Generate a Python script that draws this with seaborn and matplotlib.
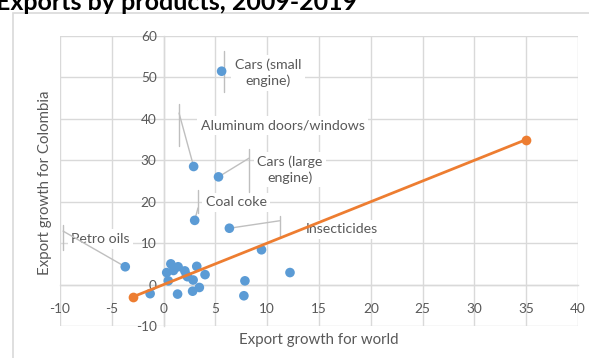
import matplotlib
matplotlib.use("Agg")
import matplotlib.pyplot as plt
import seaborn as sns
import pandas as pd
from matplotlib.patches import Rectangle

# Product-level export growth (%), world vs. Colombia
world_growth = [5.6, 2.9, 5.3, 3.0, 6.35, -3.7, 9.45, 12.2, 7.85, 7.75,
                0.3, 0.7, 0.95, 1.4, 2.05, 2.3, 2.85, 3.2, 4.0, 3.45,
                2.8, 1.35, 0.45, -1.3, 2.2]
colombia_growth = [51.5, 28.5, 26.0, 15.5, 13.6, 4.3, 8.4, 2.9, 0.9, -2.7,
                   2.9, 5.0, 3.4, 4.3, 3.3, 1.9, 1.1, 4.4, 2.4, -0.7,
                   -1.6, -2.3, 0.9, -2.2, 2.3]

# Labelled products (index into the arrays above)
callout_names = ["Cars (small\nengine)", "Aluminum doors/windows", "Cars (large\nengine)",
                 "Coal coke", "Insecticides", "Petro oils"]
callout_index = [0, 1, 2, 3, 4, 5]

# Reference 45-degree line
ref_x = [-3, 35]
ref_y = [-3, 35]

x_ticks = list(range(-10, 41, 5))
y_ticks = list(range(-10, 61, 10))

BLUE = "#5B9BD5"
ORANGE = "#ED7D31"
TEXT = "#595959"
GRID = "#D9D9D9"
LEADER = "#BFBFBF"
FONT = "Lato"

sns.set_theme(style="white")
plt.rcParams["font.family"] = [FONT, "DejaVu Sans"]
plt.rcParams["axes.unicode_minus"] = False

fig = plt.figure(figsize=(5.89, 3.58), dpi=100)
ax = fig.add_axes([60 / 589, 32 / 358, 518 / 589, 290 / 358])

# chart frame
fig.patches.append(Rectangle((13 / 589, -0.1), 1.2, (358 - 13) / 358 + 0.1,
                             transform=fig.transFigure, fill=False,
                             edgecolor=GRID, linewidth=1.2, zorder=0))
fig.text(-0.007, 1 - 10 / 358, "Exports by products, 2009-2019",
         ha="left", va="baseline", fontsize=18, fontweight="bold", color="black")

df = pd.DataFrame({"world": world_growth, "colombia": colombia_growth})
line_df = pd.DataFrame({"x": ref_x, "y": ref_y})

ax.set_xlim(-10, 40)
ax.set_ylim(-10, 60)
ax.set_xticks(x_ticks)
ax.set_yticks(y_ticks)
ax.grid(True, color=GRID, linewidth=1.0, zorder=0)
ax.set_axisbelow(True)

for side in ["top", "right"]:
    ax.spines[side].set_visible(False)
ax.spines["left"].set_position(("data", 0))
ax.spines["bottom"].set_position(("data", 0))
for side in ["left", "bottom"]:
    ax.spines[side].set_color(GRID)
    ax.spines[side].set_linewidth(1.0)
    ax.spines[side].set_zorder(0.5)

ax.tick_params(axis="both", length=0, labelsize=9.8, labelcolor=TEXT)
ax.tick_params(axis="x", pad=13)
ax.tick_params(axis="y", pad=5)

# callout text boxes and their leader bars (label centre, bar x, bar y-span, joint y)
callout_layout = [
    ((10.1, 51.1), 5.83, (46.5, 56.4), 51.4),
    ((11.5, 38.3), 1.49, (33.5, 43.6), 41.4),
    ((12.2, 27.7), 8.24, (22.4, 32.8), 30.5),
    ((7.0, 19.9), 3.32, (17.3, 22.8), 18.5),
    ((17.2, 13.4), 11.2, (11.5, 16.6), 15.4),
    ((-6.1, 11.0), -9.7, (8.35, 14.4), 12.9),
]
for name, idx, (centre, bx, (y0, y1), jy) in zip(callout_names, callout_index, callout_layout):
    ax.text(centre[0], centre[1], name, ha="center", va="center", fontsize=10.2,
            color=TEXT, linespacing=1.3, zorder=2,
            bbox=dict(boxstyle="square,pad=0.25", facecolor="white", edgecolor="none"))
    ax.plot([bx, bx], [y0, y1], color=LEADER, linewidth=1.0, zorder=2.5)
    ax.plot([bx, world_growth[idx]], [jy, colombia_growth[idx]],
            color=LEADER, linewidth=1.0, zorder=2.5)

sns.scatterplot(data=df, x="world", y="colombia", ax=ax, color=BLUE, s=48,
                edgecolor="none", zorder=3, legend=False)
sns.lineplot(data=line_df, x="x", y="y", ax=ax, color=ORANGE, linewidth=2.0,
             marker="o", markersize=7, markeredgewidth=0, zorder=4, legend=False)

ax.set_xlabel("Export growth for world", fontsize=10.8, color=TEXT)
ax.set_ylabel("Export growth for Colombia", fontsize=10.8, color=TEXT)
ax.xaxis.set_label_coords(0.5, (358 - 340 - 32) / 290)
ax.yaxis.set_label_coords((45 - 60) / 518, 0.5 + (181 - 183) / 290)
ax.xaxis.label.set_va("center")
ax.yaxis.label.set_va("center")

fig.savefig("out.png", dpi=100)
